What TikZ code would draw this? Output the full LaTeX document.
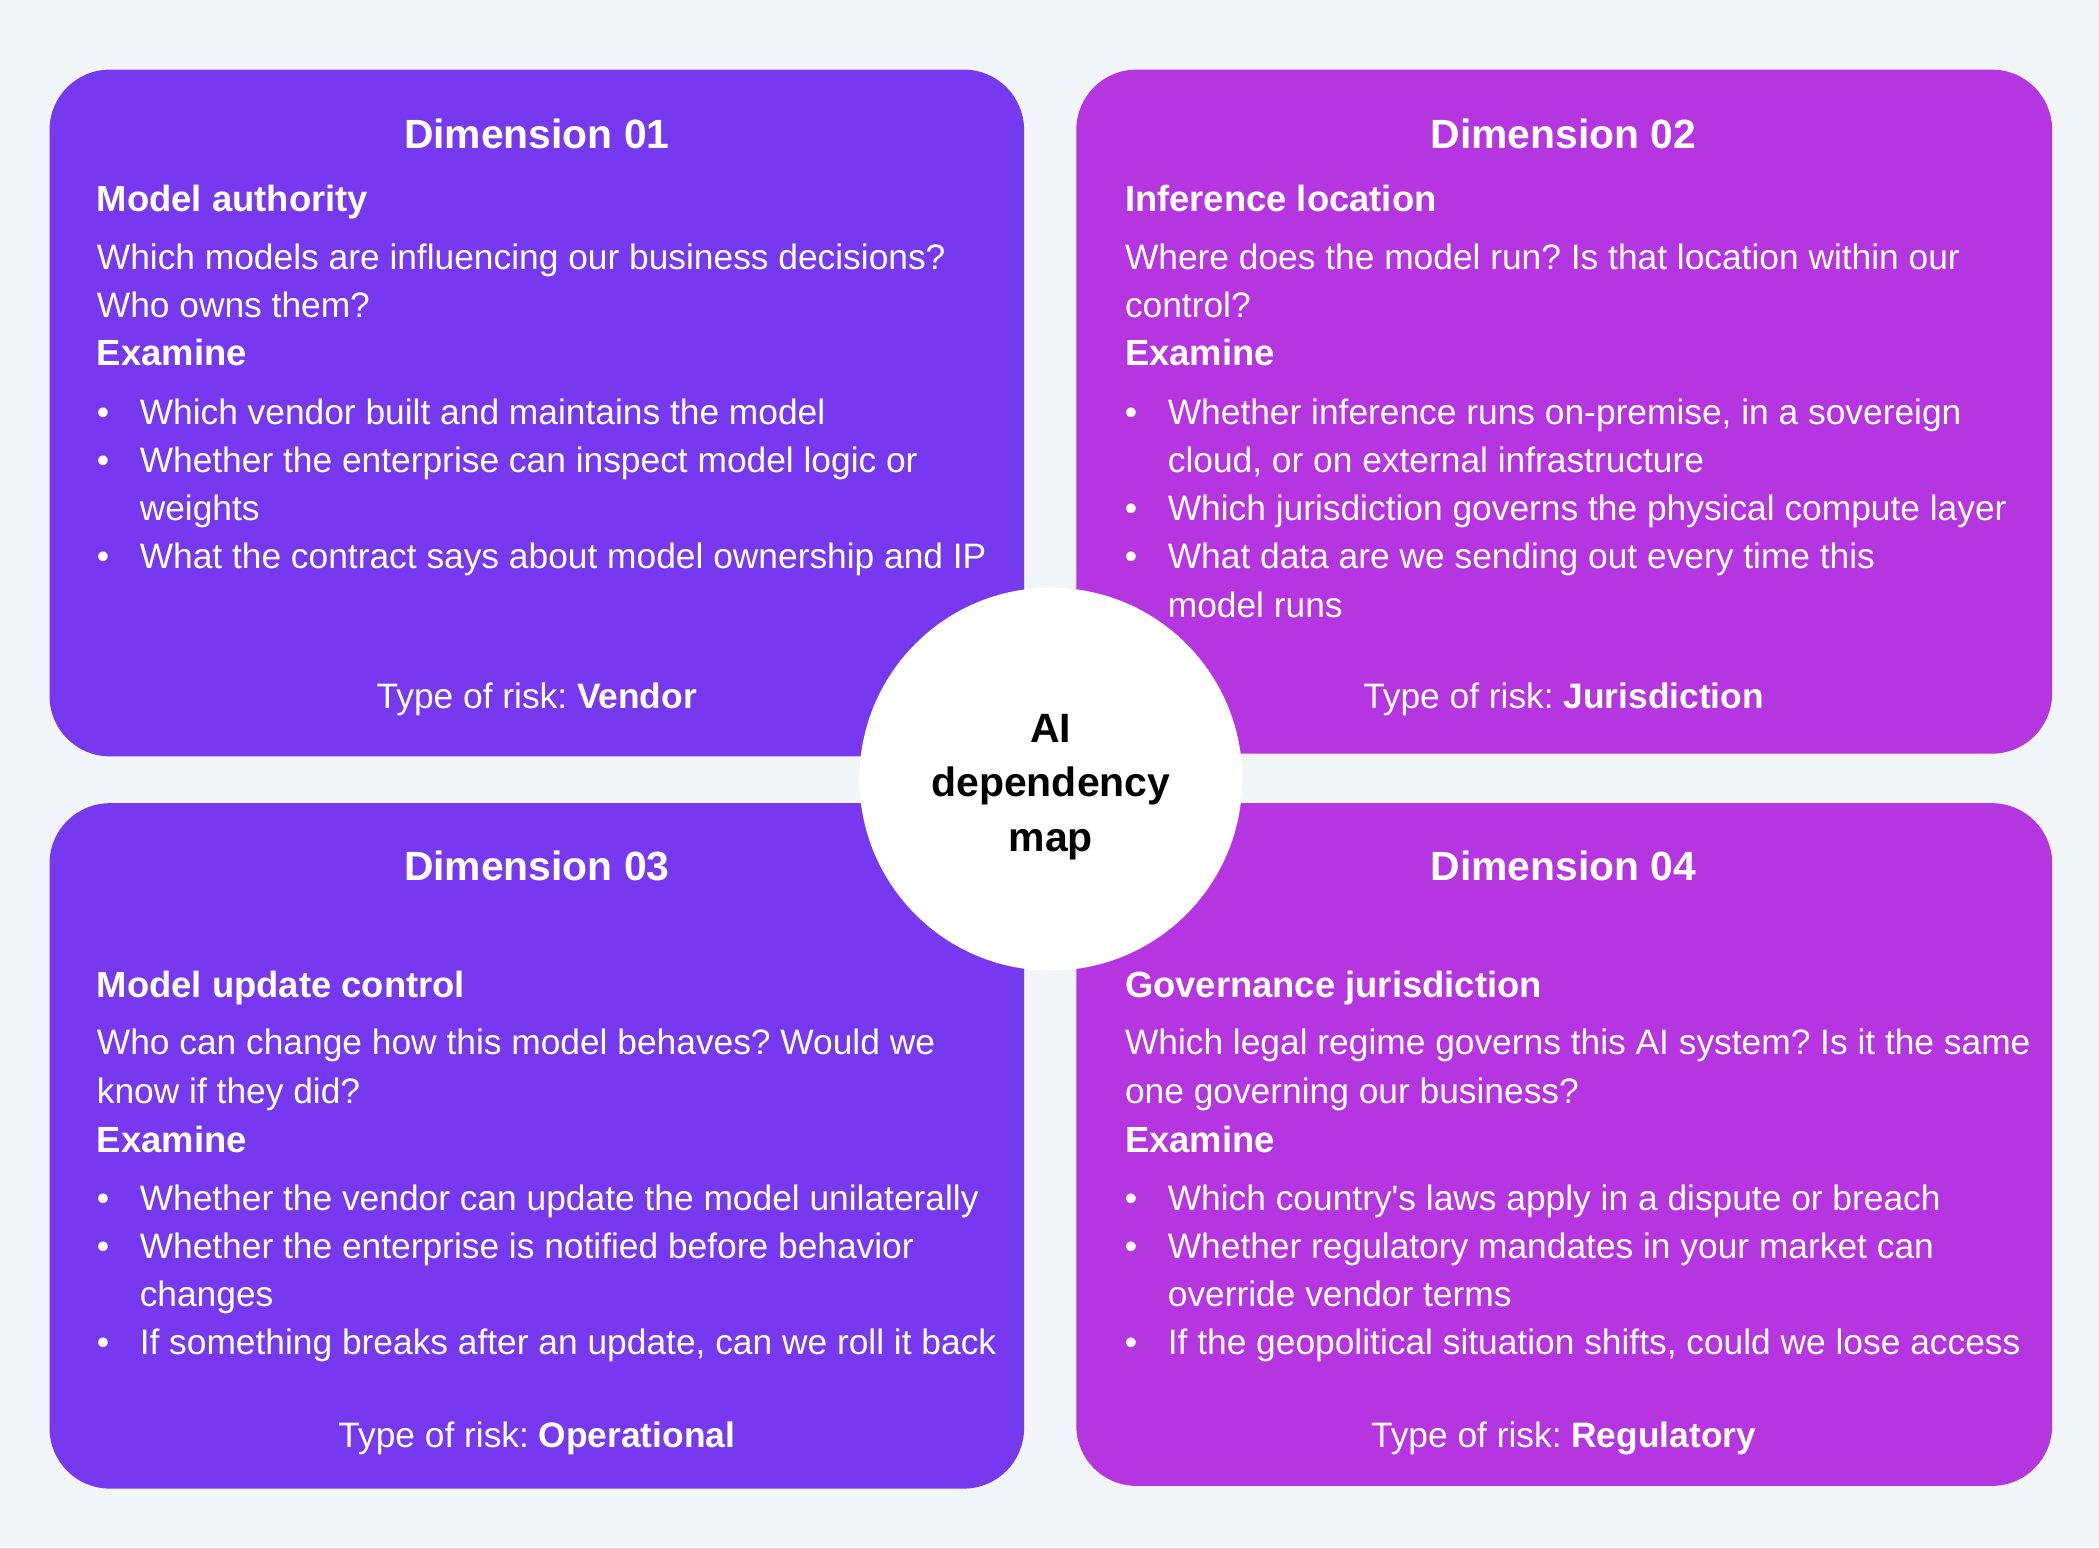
\documentclass[tikz,border=0pt]{standalone}
\usepackage{fontspec}
\setmainfont{Liberation Sans}[Ligatures=TeXOff]
\usepackage{tikz}
\definecolor{violetcard}{RGB}{118,57,240}
\definecolor{purplecard}{RGB}{181,53,224}
\definecolor{pagebg}{RGB}{242,245,248}
\frenchspacing

\begin{document}
\begin{tikzpicture}[x=0.5pt,y=-0.5pt,
  card/.style={rounded corners=22.5pt},
  dim/.style={text=white,anchor=base,inner sep=0,font=\fontsize{15.25}{18}\selectfont\bfseries},
  sub/.style={text=white,anchor=base west,inner sep=0,font=\fontsize{13.6}{18}\selectfont\bfseries},
  body/.style={text=white,anchor=base west,inner sep=0,font=\fontsize{13.2}{18}\selectfont},
  dot/.style={text=white,anchor=base,inner sep=0,font=\fontsize{13.2}{18}\selectfont},
  risk/.style={text=white,anchor=base,inner sep=0,font=\fontsize{13.2}{18}\selectfont},
  hub/.style={circle,fill=white,minimum size=143pt,inner sep=0},
  hubtext/.style={align=center,inner sep=0,font=\fontsize{15.3}{20.5}\selectfont\bfseries}]

\fill [pagebg] (0,0) rectangle (1568,1156);

\fill [card,violetcard] (37,52) rectangle (765,565); \fill [card,purplecard] (804,52) rectangle (1533,563);
\fill [card,violetcard] (37,600) rectangle (765,1112); \fill [card,purplecard] (804,600) rectangle (1533,1110);

\node [dim] (d1) at (401,111) {Dimension 01};
\node [sub] (s1) at (72,158) {Model authority};
\node [body] (q1a) at (72,201) {Which models are influencing our business decisions?};
\node [body] (q1b) at (72,237) {Who owns them?};
\node [sub] (e1) at (72,273) {Examine};
\node [dot] (b1a) at (77,317) {•}; \node [body] (t1a) at (104,317) {Which vendor built and maintains the model};
\node [dot] (b1b) at (77,353) {•}; \node [body] (t1b) at (104,353) {Whether the enterprise can inspect model logic or};
\node [body] (t1c) at (104,389) {weights};
\node [dot] (b1d) at (77,425) {•}; \node [body] (t1d) at (104,425) {What the contract says about model ownership and IP};
\node [risk] (r1) at (401,529) {Type of risk: \textbf{Vendor}};

\node [dim] (d2) at (1168,111) {Dimension 02};
\node [sub] (s2) at (840,158) {Inference location};
\node [body] (q2a) at (840,201) {Where does the model run? Is that location within our};
\node [body] (q2b) at (840,237) {control?};
\node [sub] (e2) at (840,273) {Examine};
\node [dot] (b2a) at (845,317) {•}; \node [body] (t2a) at (872,317) {Whether inference runs on-premise, in a sovereign};
\node [body] (t2b) at (872,353) {cloud, or on external infrastructure};
\node [dot] (b2c) at (845,389) {•}; \node [body] (t2c) at (872,389) {Which jurisdiction governs the physical compute layer};
\node [dot] (b2d) at (845,425) {•}; \node [body] (t2d) at (872,425) {What data are we sending out every time this};
\node [body] (t2e) at (872,461) {model runs};
\node [risk] (r2) at (1168,529) {Type of risk: \textbf{Jurisdiction}};

\node [dim] (d3) at (401,658) {Dimension 03};
\node [sub] (s3) at (72,745) {Model update control};
\node [body] (q3a) at (72,788) {Who can change how this model behaves? Would we};
\node [body] (q3b) at (72,824) {know if they did?};
\node [sub] (e3) at (72,861) {Examine};
\node [dot] (b3a) at (77,904) {•}; \node [body] (t3a) at (104,904) {Whether the vendor can update the model unilaterally};
\node [dot] (b3b) at (77,940) {•}; \node [body] (t3b) at (104,940) {Whether the enterprise is notified before behavior};
\node [body] (t3c) at (104,976) {changes};
\node [dot] (b3d) at (77,1012) {•}; \node [body] (t3d) at (104,1012) {If something breaks after an update, can we roll it back};
\node [risk] (r3) at (401,1081) {Type of risk: \textbf{Operational}};

\node [dim] (d4) at (1168,658) {Dimension 04};
\node [sub] (s4) at (840,745) {Governance jurisdiction};
\node [body] (q4a) at (840,788) {Which legal regime governs this AI system? Is it the same};
\node [body] (q4b) at (840,824) {one governing our business?};
\node [sub] (e4) at (840,861) {Examine};
\node [dot] (b4a) at (845,904) {•}; \node [body] (t4a) at (872,904) {Which country's laws apply in a dispute or breach};
\node [dot] (b4b) at (845,940) {•}; \node [body] (t4b) at (872,940) {Whether regulatory mandates in your market can};
\node [body] (t4c) at (872,976) {override vendor terms};
\node [dot] (b4d) at (845,1012) {•}; \node [body] (t4d) at (872,1012) {If the geopolitical situation shifts, could we lose access};
\node [risk] (r4) at (1168,1081) {Type of risk: \textbf{Regulatory}};

\node [hub] (map) at (785,582) {};
\node [hubtext] (maplabel) at (785,588) {AI\\dependency\\map};

\end{tikzpicture}
\end{document}
